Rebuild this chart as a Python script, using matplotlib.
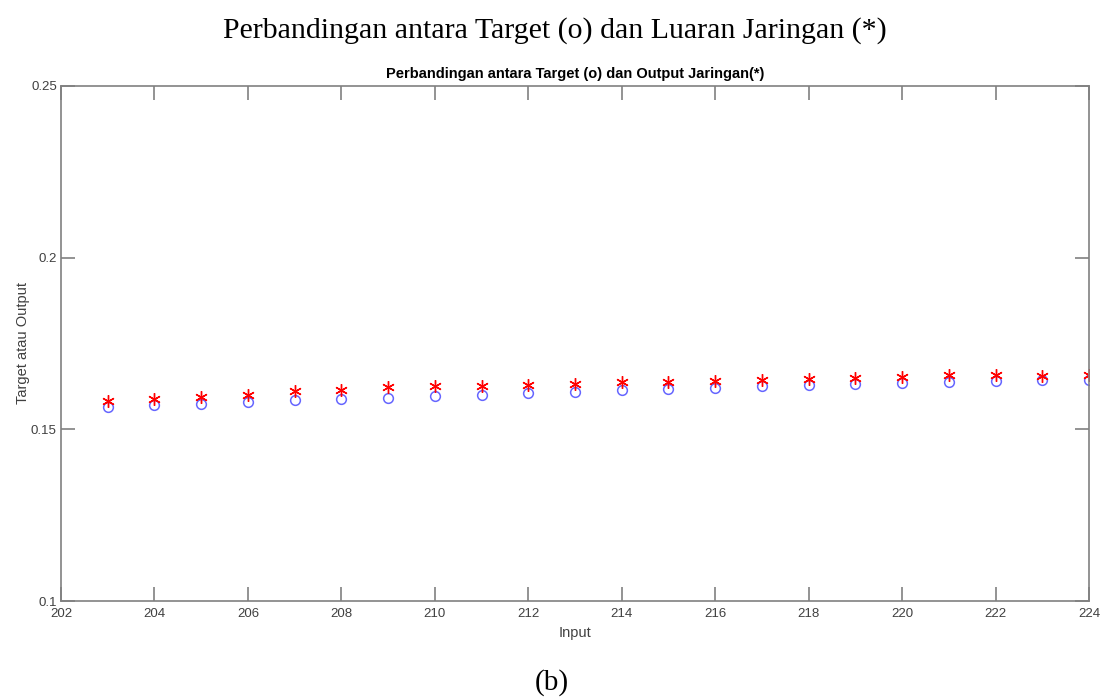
import matplotlib
matplotlib.use("Agg")
from matplotlib import pyplot as plt

# data
inputs = list(range(203, 225))
target = [0.1566, 0.1572, 0.1575, 0.1581, 0.1585, 0.1589, 0.1592, 0.1598,
          0.1601, 0.1606, 0.1610, 0.1615, 0.1618, 0.1621, 0.1627, 0.1629,
          0.1632, 0.1635, 0.1638, 0.1640, 0.1644, 0.1644]
output = [0.1583, 0.1589, 0.1595, 0.1601, 0.1613, 0.1615, 0.1623, 0.1627,
          0.1626, 0.1630, 0.1633, 0.1638, 0.1638, 0.1642, 0.1644, 0.1646,
          0.1650, 0.1652, 0.1659, 0.1657, 0.1655, 0.1659]

x_ticks = list(range(202, 225, 2))
y_ticks = [0.1, 0.15, 0.2, 0.25]
y_tick_labels = ["0.1", "0.15", "0.2", "0.25"]

plt.rcParams["font.family"] = ["Liberation Sans", "DejaVu Sans"]

fig = plt.figure(figsize=(11.01, 6.98), dpi=100)
ax = fig.add_axes([61 / 1101, 1 - 601 / 698, (1089 - 61) / 1101, (601 - 86) / 698])

ax.plot(inputs, target, "o", color="#3333ff", markerfacecolor="none",
        markersize=7, markeredgewidth=1.1, alpha=0.75)
# MATLAB style asterisk
ax.plot(inputs, output, linestyle="none", marker=(6, 2, 0), color="red",
        markersize=9, markeredgewidth=1.0)

ax.set_xlim(202, 224)
ax.set_ylim(0.1, 0.25)
ax.set_xticks(x_ticks)
ax.set_yticks(y_ticks)
ax.set_yticklabels(y_tick_labels)

grey = "#808080"
for s in ax.spines.values():
    s.set_color(grey)
    s.set_linewidth(1.2)
ax.tick_params(direction="in", length=10, width=1.2, colors=grey,
               labelcolor="#404040", labelsize=9.5, top=True, right=True)
ax.tick_params(axis="x", pad=5)
ax.tick_params(axis="y", pad=3)

ax.set_title("Perbandingan antara Target (o) dan Output Jaringan(*)",
             fontsize=10.5, fontweight="bold", pad=6)
ax.set_xlabel("Input", fontsize=10.5, color="#404040", labelpad=4)
ax.set_ylabel("Target atau Output", fontsize=10.5, color="#404040", labelpad=1)

fig.text(555 / 1101, 1 - 31 / 698,
         "Perbandingan antara Target (o) dan Luaran Jaringan (*)",
         family="Liberation Serif", fontsize=21.5, ha="center", va="center")
fig.text(552 / 1101, 1 - 683 / 698, "(b)", family="Liberation Serif",
         fontsize=21, ha="center", va="center")

fig.savefig("out.png", dpi=100)
